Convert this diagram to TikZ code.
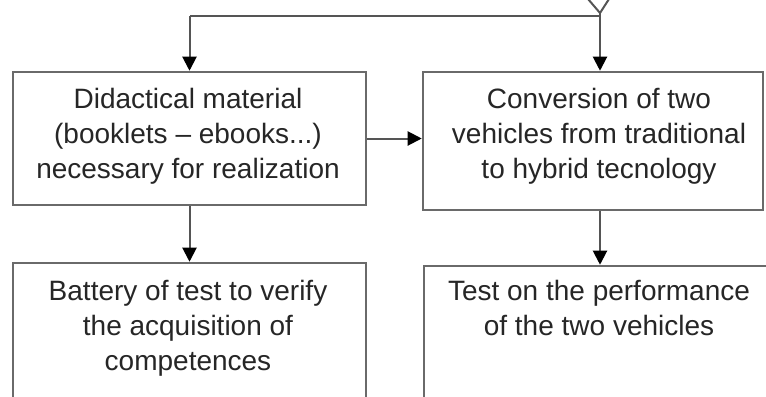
\documentclass[tikz,border=0pt]{standalone}
\usepackage{fontspec}
\setmainfont{Liberation Sans}
\usetikzlibrary{positioning,fit,arrows.meta}
\definecolor{boxline}{HTML}{6A6A6A}
\definecolor{flowline}{HTML}{555555}
\tikzset{
	box/.style={rectangle,draw=boxline,line width=1.9pt,inner sep=0pt,fill=white},
	boxtext/.style={anchor=north,inner sep=0pt,align=center,font=\fontsize{21}{26.5}\selectfont,text=black!85},
	flow/.style={color=flowline,line width=1.5pt},
	dirflow/.style={-{Triangle[width=10.5pt,length=10.5pt,color=black]},color=flowline,line width=1.5pt}
}

\begin{document}
\begin{tikzpicture}[x=0.75pt,y=-0.75pt]
		\useasboundingbox (0,0) rectangle (766,396);
		\clip (0,0) rectangle (766,396);
		
		%%%% upper row
		\node[box,fit={(13,72) (366,205)}] (didactic) {};
		\node[box,fit={(423,72) (763,210)}] (conversion) {};
		
		%%%% lower row, cut by the page
		\node[box,fit={(13,263) (366,430)}] (battery) {};
		\node[box,fit={(424,266) (790,430)}] (perform) {};
		
		\node[boxtext] (didactictext) at (188,87.5) {Didactical material\\(booklets -- ebooks...)\\necessary for realization};
		\node[boxtext] (conversiontext) at (599,87.5) {Conversion of two\\vehicles from traditional\\to hybrid tecnology};
		\node[boxtext] (batterytext) at (188,279.5) {Battery of test to verify\\the acquisition of\\competences};
		\node[boxtext] (performtext) at (599,279.5) {Test on the performance\\of the two vehicles};
		
		%%%% branch coming from above
		\coordinate (split) at (600,13);
		\coordinate (junction) at (600,16);
		\coordinate (corner) at (didactic.north |- junction);
		\draw[flow] (split) -- ++(-12,-14) (split) -- ++(9,-14);
		\draw[flow] (split) -- (junction) -- (corner);
		\draw[dirflow] (corner) -- (didactic.north);
		\draw[dirflow] (junction) -- (junction |- conversion.north);
		
		%%%% between the boxes
		\draw[dirflow] (didactic.east) -- (didactic.east -| conversion.west);
		\draw[dirflow] (didactic.south) -- (didactic.south |- battery.north);
		\draw[dirflow] (junction |- conversion.south) -- (junction |- perform.north);
		
\end{tikzpicture}
\end{document}
